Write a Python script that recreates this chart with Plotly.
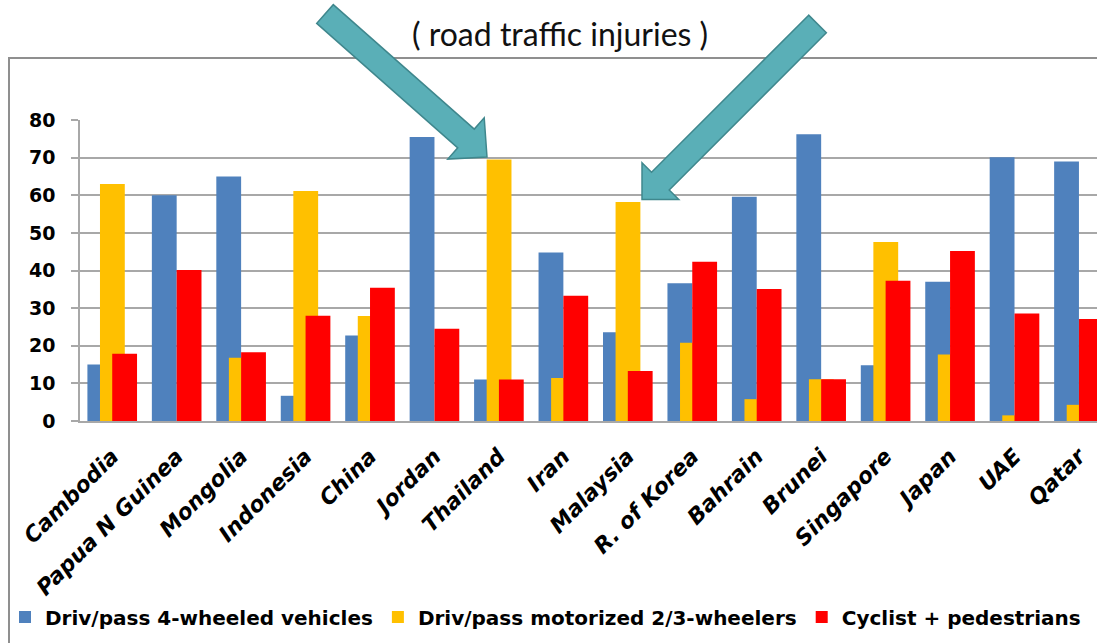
import math
import plotly.graph_objects as go

# Share of road traffic injuries by road-user group (%)
countries = ["Cambodia", "Papua N Guinea", "Mongolia", "Indonesia", "China", "Jordan",
             "Thailand", "Iran", "Malaysia", "R. of Korea", "Bahrain", "Brunei",
             "Singapore", "Japan", "UAE", "Qatar"]
four_wheeled = [15, 60, 65, 6.7, 22.7, 75.5, 11, 44.8, 23.6, 36.6, 59.6, 76.2, 14.8, 37, 70.1, 69]
two_three_wheelers = [63, 0, 16.8, 61.1, 27.9, 0, 69.5, 11.4, 58.2, 20.8, 5.8, 11.1, 47.6, 17.7, 1.5, 4.3]
cyclist_pedestrian = [17.9, 40.1, 18.3, 28, 35.4, 24.5, 11, 33.3, 13.3, 42.3, 35.1, 11.1, 37.3, 45.2, 28.6, 27.1]

series_names = ["Driv/pass 4-wheeled vehicles", "Driv/pass motorized 2/3-wheelers",
                "Cyclist + pedestrians"]
y_ticks = [0, 10, 20, 30, 40, 50, 60, 70, 80]

W, H = 1097, 643
PL, PR, PT, PB = 80, 1097, 120, 421  # plot area in pixels


def to_paper(x, y):
    return (x - PL) / (PR - PL), (PB - y) / (PB - PT)


def block_arrow(tail, tip, half_shaft, half_head, head_len):
    tx, ty = tail
    px, py = tip
    d = math.hypot(px - tx, py - ty)
    ux, uy = (px - tx) / d, (py - ty) / d
    nx, ny = -uy, ux
    bx, by = px - ux * head_len, py - uy * head_len
    pts = [
        (tx + nx * half_shaft, ty + ny * half_shaft),
        (bx + nx * half_shaft, by + ny * half_shaft),
        (bx + nx * half_head, by + ny * half_head),
        (px, py),
        (bx - nx * half_head, by - ny * half_head),
        (bx - nx * half_shaft, by - ny * half_shaft),
        (tx - nx * half_shaft, ty - ny * half_shaft),
    ]
    path = ""
    for i, (x, y) in enumerate(pts):
        X, Y = to_paper(x, y)
        path += ("M" if i == 0 else "L") + f"{X:.5f},{Y:.5f} "
    return path + "Z"


colors = ["#4F81BD", "#FFC000", "#FF0000"]
offsets = [-0.385, -0.19, 0.0]
bar_w = 0.385

fig = go.Figure()
for name, vals, col, off in zip(series_names,
                                [four_wheeled, two_three_wheelers, cyclist_pedestrian],
                                colors, offsets):
    fig.add_trace(go.Bar(x=countries, y=vals, name=name, marker_color=col,
                         marker_line_width=0, width=bar_w, offset=off))

grid = "#a8a8a8"
tick_font = dict(family="DejaVu Sans", size=19, color="#000000", weight="bold")

fig.update_layout(
    width=W, height=H,
    barmode="overlay",
    paper_bgcolor="white", plot_bgcolor="white",
    margin=dict(l=PL, r=W - PR, t=PT, b=H - PB, autoexpand=False),
    xaxis=dict(range=[-0.5, 15.28], showgrid=False, showline=True, linecolor=grid,
               linewidth=1.5, ticks="", tickangle=-45, ticklabelstandoff=12,
               tickfont=dict(family="DejaVu Sans", size=22, color="#000000",
                             weight="bold", style="italic")),
    yaxis=dict(range=[0, 80], tickvals=y_ticks, showgrid=True, gridcolor=grid,
               gridwidth=1.5, zeroline=False, showline=True, linecolor=grid,
               linewidth=1.5, ticks="outside", ticklen=7, tickcolor=grid,
               tickwidth=1.5, ticklabelstandoff=12, tickfont=tick_font),
    legend=dict(orientation="h", x=(5 - PL) / (PR - PL), xanchor="left",
                y=(PB - 617) / (PB - PT), yanchor="middle",
                font=dict(family="DejaVu Sans", size=20, color="#000000", weight="bold"),
                bgcolor="rgba(0,0,0,0)"),
    showlegend=True,
)

# chart frame
fx0, fy0 = to_paper(9, 58)
fx1, fy1 = to_paper(1110, 660)
fig.add_shape(type="rect", xref="paper", yref="paper", x0=fx0, y0=fy1, x1=fx1, y1=fy0,
              line=dict(color="#8f8f8f", width=2), fillcolor="rgba(0,0,0,0)", layer="below")

# callout arrows
arrow_style = dict(type="path", xref="paper", yref="paper", fillcolor="#5AAFB7",
                   line=dict(color="#3F878D", width=1.5), layer="above")
fig.add_shape(path=block_arrow((325, 14), (487, 157), 12.5, 27.5, 28), **arrow_style)
fig.add_shape(path=block_arrow((817.5, 24), (642, 199.5), 12.5, 26, 26), **arrow_style)

tx, ty = to_paper(560, 34)
fig.add_annotation(text="( road traffic injuries )", xref="paper", yref="paper",
                   x=tx, y=ty, xanchor="center", yanchor="middle", showarrow=False,
                   font=dict(family="Lato", size=32, color="#111111"))

fig.write_html("out.html")
